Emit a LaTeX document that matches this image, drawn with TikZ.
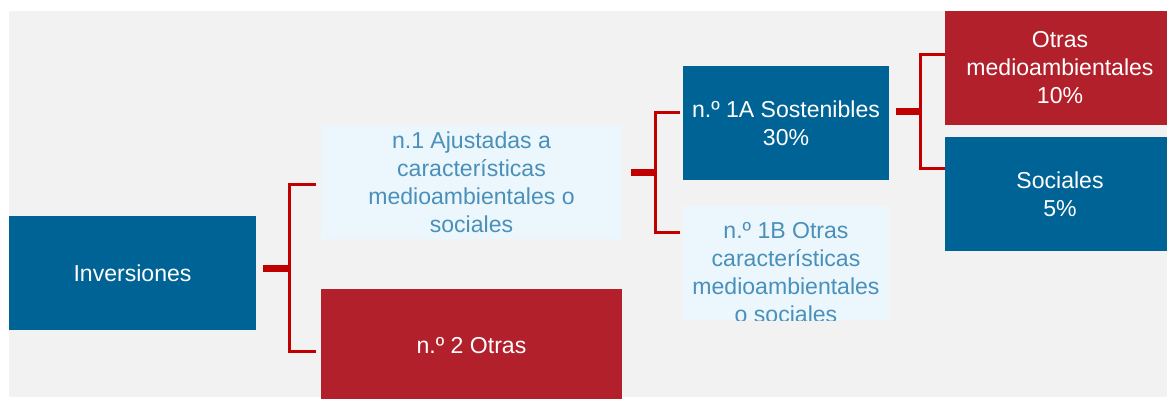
\documentclass[tikz,border=0pt]{standalone}
\usepackage{fontspec}
\setmainfont{Liberation Sans}
\usetikzlibrary{positioning}
\definecolor{blueinv}{HTML}{006396}
\definecolor{redinv}{HTML}{B2202B}
\definecolor{redlink}{HTML}{C00000}
\definecolor{bluepale}{HTML}{EBF7FC}
\definecolor{bluetext}{HTML}{4A90BA}
\definecolor{graybg}{HTML}{F2F2F2}
\tikzstyle{bluebox} =
        [
                rectangle,
                fill = blueinv,
                text = white,
                align = center,
                inner sep = 0pt,
                minimum height = 2.85cm,
                font = \fontsize{16.4pt}{19.9pt}\selectfont
        ]
\tikzstyle{redbox} =
        [
                rectangle,
                fill = redinv,
                text = white,
                align = center,
                inner sep = 0pt,
                minimum height = 2.85cm,
                font = \fontsize{16.4pt}{19.9pt}\selectfont
        ]
\tikzstyle{palebox} =
        [
                rectangle,
                fill = bluepale,
                text = bluetext,
                align = center,
                inner sep = 0pt,
                minimum height = 2.85cm,
                font = \fontsize{16.4pt}{19.9pt}\selectfont
        ]
\tikzstyle{paletext} =
        [
                text = bluetext,
                align = center,
                inner sep = 0pt,
                font = \fontsize{16.4pt}{19.9pt}\selectfont
        ]
\tikzstyle{stub} =
        [
                draw = redlink,
                line width = 0.175cm
        ]
\tikzstyle{arm} =
        [
                draw = redlink,
                line width = 0.075cm
        ]

\begin{document}
\begin{tikzpicture}[node distance = 2cm, auto]
        \useasboundingbox (0,0) rectangle (29.175,-9.95);
        \fill [graybg] (0.225,-0.275) rectangle (29.175,-9.925);

        \node [bluebox, minimum width = 6.175cm] at (3.3125,-6.825) (inv) {Inversiones};
        \node [palebox, minimum width = 7.525cm, right of = inv, node distance = 8.475cm, yshift = 2.275cm] (ajus) {n.1 Ajustadas a\\características\\medioambientales o\\sociales};
        \node [redbox, minimum width = 7.525cm, below of = ajus, node distance = 4.1cm] (otras) {n.º 2 Otras};
        \node [bluebox, minimum width = 5.15cm, right of = ajus, node distance = 7.8625cm, yshift = 1.475cm] (sost) {n.º 1A Sostenibles\\30\%};
        \node [palebox, minimum width = 5.15cm, below of = sost, node distance = 3.5cm] (otcar) {};
        \begin{scope}
                \clip (otcar.south west) rectangle (otcar.north east);
                \node [paletext, yshift = -0.2375cm] at (otcar) (otcartext) {n.º 1B Otras\\características\\medioambientales\\o sociales};
        \end{scope}
        \node [redbox, minimum width = 5.75cm, right of = sost, node distance = 6.85cm, yshift = 1.375cm] (otma) {Otras\\medioambientales\\10\%};
        \node [bluebox, minimum width = 5.75cm, below of = otma, node distance = 3.15cm] (soc) {Sociales\\5\%};

        \coordinate (j1) at ([xshift = 0.175cm, yshift = 0.125cm]inv.east);
        \path [stub] (j1) -- ++(0.65,0) coordinate (k1);
        \path [arm] ([xshift = -0.125cm, yshift = 2.0875cm]k1 -| ajus.west) -| (k1) |- ([xshift = -0.125cm, yshift = -2.0875cm]k1 -| otras.west);

        \coordinate (j2) at ([xshift = 0.225cm, yshift = 0.25cm]ajus.east);
        \path [stub] (j2) -- ++(0.6,0) coordinate (k2);
        \path [arm] ([xshift = -0.075cm, yshift = 1.5cm]k2 -| sost.west) -| (k2) |- ([xshift = -0.075cm, yshift = -1.5cm]k2 -| otcar.west);

        \coordinate (j3) at ([xshift = 0.175cm, yshift = 0.3cm]sost.east);
        \path [stub] (j3) -- ++(0.6,0) coordinate (k3);
        \path [arm] ([yshift = 1.425cm]k3 -| otma.west) -| (k3) |- ([yshift = -1.425cm]k3 -| soc.west);
\end{tikzpicture}
\end{document}
